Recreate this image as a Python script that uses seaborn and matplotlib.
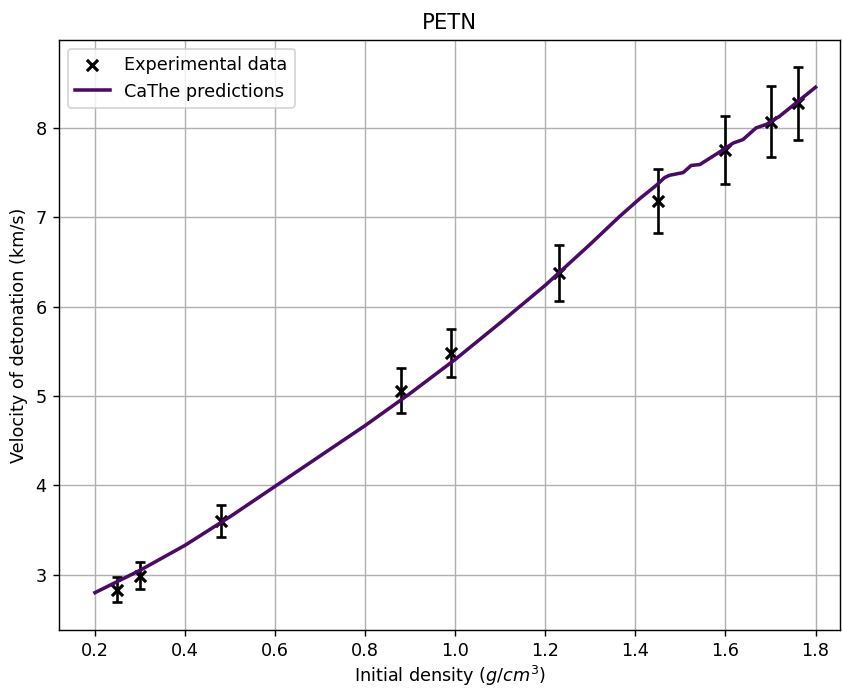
import numpy as np
import pandas as pd
import seaborn as sns
import matplotlib
matplotlib.use("Agg")
import matplotlib.pyplot as plt

# experimental data (PETN)
exp_density = [0.25, 0.30, 0.48, 0.88, 0.99, 1.23, 1.45, 1.60, 1.70, 1.76]
exp_vod = [2.83, 2.99, 3.60, 5.06, 5.48, 6.375, 7.18, 7.75, 8.07, 8.275]
exp_err = [0.14, 0.15, 0.18, 0.25, 0.27, 0.31, 0.36, 0.38, 0.40, 0.41]

# model predictions
pred_density = [0.2, 0.3, 0.4, 0.5, 0.6, 0.7, 0.8, 0.9, 1.0, 1.1, 1.2, 1.3,
                1.365, 1.41, 1.447, 1.465, 1.476, 1.506, 1.524, 1.543, 1.565,
                1.587, 1.617, 1.639, 1.668, 1.691, 1.72, 1.757, 1.8]
pred_vod = [2.80, 3.05, 3.33, 3.65, 3.99, 4.33, 4.67, 5.03, 5.41, 5.82, 6.24, 6.70,
            7.01, 7.21, 7.36, 7.445, 7.47, 7.50, 7.58, 7.59, 7.66,
            7.73, 7.83, 7.87, 8.00, 8.04, 8.13, 8.28, 8.455]

df_exp = pd.DataFrame({"density": exp_density, "vod": exp_vod, "err": exp_err})
df_pred = pd.DataFrame({"density": pred_density, "vod": pred_vod})

plt.rcParams['font.family'] = ['DejaVu Sans']

fig, ax = plt.subplots(figsize=(6.63, 5.426), dpi=127)
fig.subplots_adjust(left=0.070, right=0.998, bottom=0.086, top=0.942)

sns.scatterplot(data=df_exp, x="density", y="vod", marker="x", color="black",
                s=40, linewidth=1.8, label="Experimental data", ax=ax, zorder=3)
ax.errorbar(df_exp["density"], df_exp["vod"], yerr=df_exp["err"], fmt="none",
            ecolor="black", elinewidth=1.5, capsize=3, capthick=1.5, zorder=3)
sns.lineplot(data=df_pred, x="density", y="vod", color="#4b0a66", linewidth=2,
             label="CaThe predictions", ax=ax, zorder=4)

ax.set_xlim(0.12, 1.855)
ax.set_ylim(2.385, 8.985)
ax.set_xticks([0.2, 0.4, 0.6, 0.8, 1.0, 1.2, 1.4, 1.6, 1.8])
ax.set_yticks([3, 4, 5, 6, 7, 8])
ax.grid(True)
ax.set_axisbelow(True)

ax.set_title("PETN")
ax.set_xlabel("Initial density ($g/cm^3$)", labelpad=2)
ax.set_ylabel("Velocity of detonation (km/s)")
ax.legend(loc="upper left")

fig.savefig("out.png", dpi=127)
